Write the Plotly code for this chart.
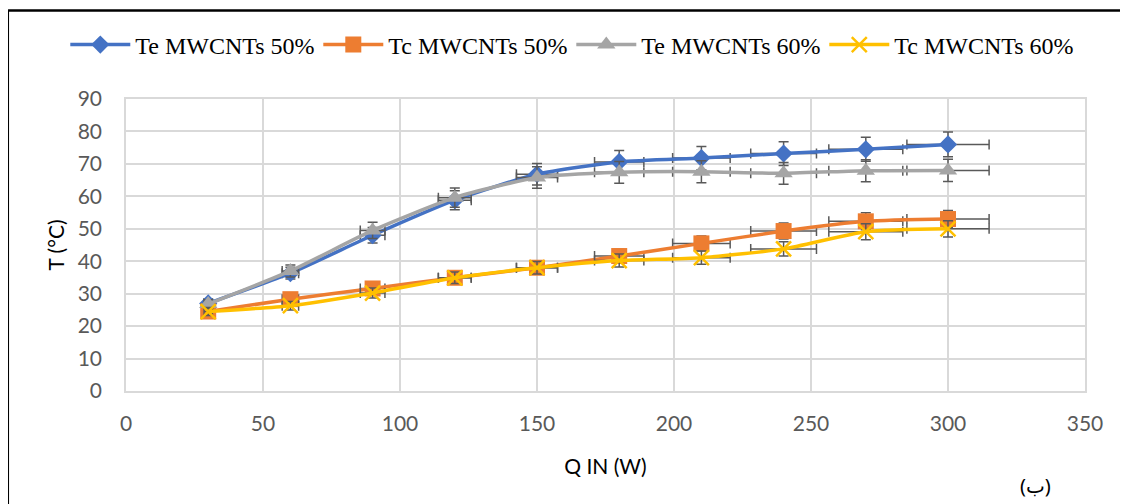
import plotly.graph_objects as go

q_in = [30, 60, 90, 120, 150, 180, 210, 240, 270, 300]
te_50 = [27, 36.3, 48, 58.8, 66.8, 70.6, 71.8, 73.2, 74.5, 76]
tc_50 = [24.5, 28.3, 31.6, 34.9, 38, 41.6, 45.5, 49.3, 52.3, 53]
te_60 = [26.8, 37, 49.5, 59.6, 65.8, 67.4, 67.6, 67.1, 67.9, 68]
tc_60 = [24.5, 26.3, 30.2, 34.9, 38, 40.2, 41.1, 43.8, 49.1, 50]

names = ["Te MWCNTs 50%", "Tc MWCNTs 50%", "Te MWCNTs 60%", "Tc MWCNTs 60%"]
colors = ["#4472C4", "#ED7D31", "#A5A5A5", "#FFC000"]
symbols = ["diamond", "square", "triangle-up", "x-thin"]
sizes = [14, 16, 16, 15]
series = [te_50, tc_50, te_60, tc_60]

fig = go.Figure()
err_col = "#595959"
for name, col, sym, sz, ys in zip(names, colors, symbols, sizes, series):
    marker = dict(symbol=sym, size=sz, color=col)
    if sym == "x-thin":
        marker["line"] = dict(color=col, width=2.5)
    fig.add_trace(go.Scatter(
        x=q_in, y=ys, name=name, mode="lines+markers",
        line=dict(color=col, width=3.5, shape="spline", smoothing=0.6),
        marker=marker,
        error_y=dict(type="percent", value=5, color=err_col, thickness=1.5, width=5),
        error_x=dict(type="percent", value=5, color=err_col, thickness=1.5, width=5),
    ))

grid = "#D9D9D9"
sans = "Lato, Open Sans, sans-serif"
tickfont = dict(family=sans, size=21, color="#595959")
fig.update_layout(
    width=1128, height=504,
    margin=dict(l=118, r=51, t=91, b=121, autoexpand=False),
    paper_bgcolor="white", plot_bgcolor="white",
    showlegend=True,
    legend=dict(orientation="h", x=-0.0633, xanchor="left", y=1.185, yanchor="middle",
                font=dict(family="Liberation Serif, Times New Roman, serif", size=24, color="black"),
                bgcolor="rgba(0,0,0,0)", itemwidth=60, entrywidth=178, entrywidthmode="pixels",
                tracegroupgap=0, traceorder="normal"),
    xaxis=dict(range=[0, 350], dtick=50, tick0=0, showgrid=True, gridcolor=grid, gridwidth=1.5,
               zeroline=False, showline=True, linecolor=grid, linewidth=1.5, mirror=True,
               tickfont=tickfont, ticks="", ticklabelstandoff=13,
               title=dict(text="Q IN (W)", font=dict(family=sans, size=21, color="black"), standoff=25)),
    yaxis=dict(range=[0, 90], dtick=10, tick0=0, showgrid=True, gridcolor=grid, gridwidth=1.5,
               zeroline=False, showline=True, linecolor=grid, linewidth=1.5, mirror=True,
               tickfont=tickfont, ticks="", ticklabelstandoff=18,
               title=dict(text="T (°C)", font=dict(family=sans, size=21, color="black"), standoff=7)),
    annotations=[dict(text="(ب)", x=0.948, y=-0.325, xref="paper", yref="paper",
                      showarrow=False, xanchor="center", yanchor="middle",
                      font=dict(family="Noto Sans, DejaVu Sans, sans-serif", size=20, color="black"))],
    shapes=[
        dict(type="line", xref="paper", yref="paper", x0=-0.123, x1=1.06, y0=1.303, y1=1.303,
             line=dict(color="black", width=2.5)),
        dict(type="line", xref="paper", yref="paper", x0=-0.123, x1=-0.123, y0=1.303, y1=-0.45,
             line=dict(color="black", width=2)),
    ],
)

fig.write_html("out.html")
